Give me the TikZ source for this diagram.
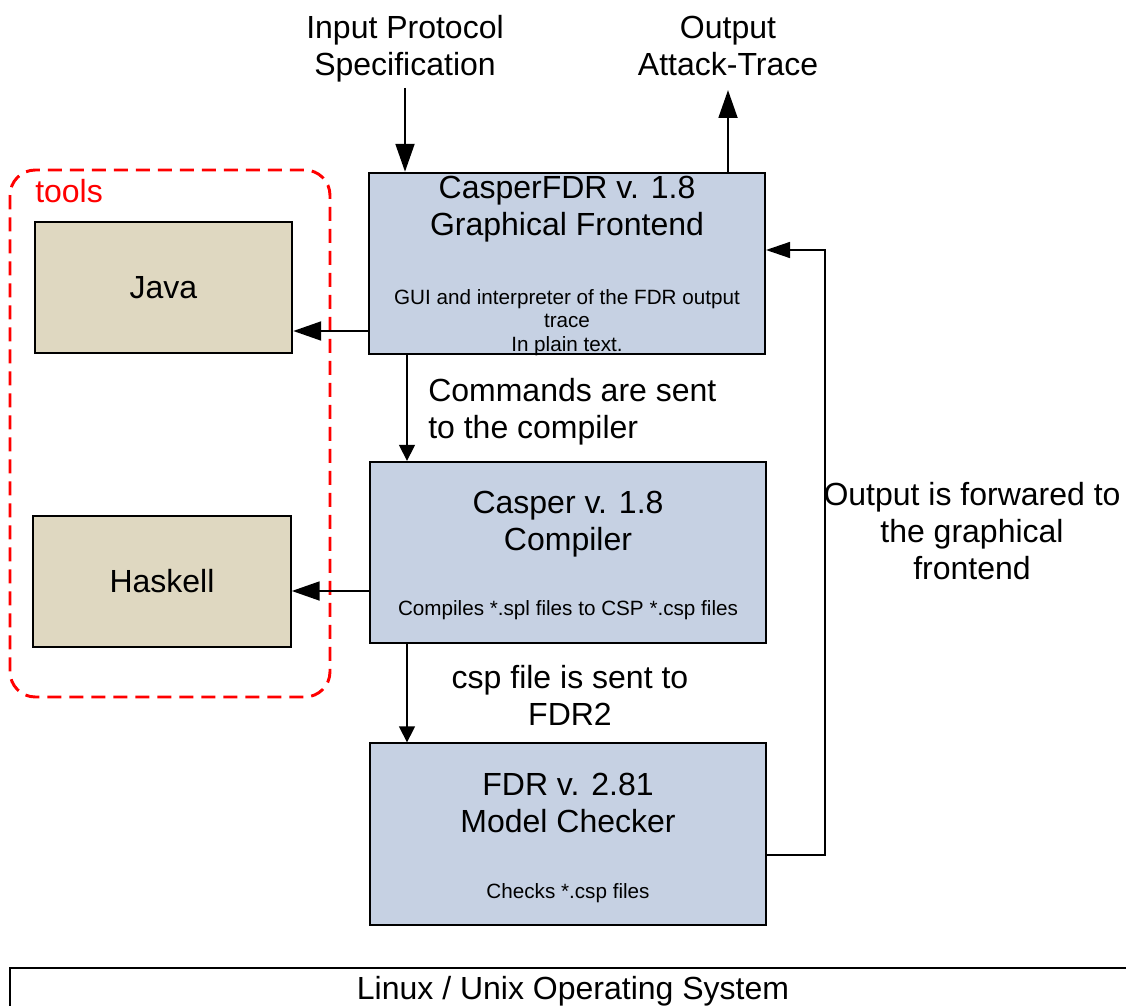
\documentclass[tikz,border=0pt]{standalone}
\usepackage{fontspec}
\setmainfont{Liberation Sans}
\usetikzlibrary{arrows.meta}
\definecolor{boxblue}{RGB}{198,209,227}
\definecolor{boxtan}{RGB}{223,216,193}
\newcommand{\bigfont}{\fontsize{24}{27.75}\selectfont}
\newcommand{\smallfont}{\fontsize{15.5}{17.6}\selectfont}
\begin{document}
\begin{tikzpicture}[
			x = 0.75pt, y = -0.75pt,
			mainbox/.style = {draw, line width=1.5pt, fill=boxblue, minimum width=297pt, minimum height=136pt, inner sep=0pt},
			toolbox/.style = {draw, line width=1.5pt, fill=boxtan, minimum width=193pt, minimum height=98pt, inner sep=0pt, font=\bigfont},
			bigtext/.style = {align=center, inner sep=0pt, font=\bigfont},
			smalltext/.style = {align=center, inner sep=0pt, font=\smallfont},
			thick arrow/.style = {line width=2.2pt, -{Triangle[length=21pt, width=14pt]}},
			thin arrow/.style = {line width=1.1pt, -{Triangle[length=12pt, width=12pt]}}
			]

		\useasboundingbox (0,0) rectangle (1126,1005);

		% operating system bar
		\draw[line width=1.5pt] (10,968) rectangle (1140,1020);
		\node[bigtext] (os) at (573,991) {Linux / Unix Operating System};

		% tools group
		\draw[red, line width=2.2pt, dash pattern=on 10.5pt off 6pt, rounded corners=19pt] (10,170) rectangle (330,697);
		\node[bigtext, red, anchor=west] (tools) at (35,191) {tools};
		\node[toolbox] (java) at (163.5,287.5) {Java};
		\node[toolbox] (haskell) at (162,581.5) {Haskell};

		% main chain
		\node[mainbox] (front) at (567,263.5) {};
		\node[bigtext] (fronttitle) at (567,209) {CasperFDR v. 1.8\\Graphical Frontend};
		\node[smalltext] (frontdesc) at (567,322.5) {GUI and interpreter of the FDR output\\trace\\In plain text.};

		\node[mainbox] (comp) at (568,552.5) {};
		\node[bigtext] (comptitle) at (568,524) {Casper v. 1.8\\Compiler};
		\node[smalltext] (compdesc) at (568,610) {Compiles *.spl files to CSP *.csp files};

		\node[mainbox] (fdr) at (568,834) {};
		\node[bigtext] (fdrtitle) at (568,803) {FDR v. 2.81\\Model Checker};
		\node[smalltext] (fdrdesc) at (568,893) {Checks *.csp files};

		% input and output
		\node[bigtext] (input) at (405,49) {Input Protocol\\Specification};
		\node[bigtext] (output) at (728,46) {Output\\Attack-Trace};
		\coordinate (inp) at (405,88);
		\coordinate (outp) at (728,90);
		\draw[thick arrow] (inp) -- (inp |- front.north);
		\draw[thick arrow] (outp |- front.north) -- (outp);

		\draw[thick arrow] (front.west |- 0,331) -- (java.east |- 0,331);
		\draw[thick arrow] (comp.west |- 0,591) -- (haskell.east |- 0,591);

		\draw[thin arrow] (front.south -| 407,0) -- (comp.north -| 407,0);
		\draw[thin arrow] (comp.south -| 407,0) -- (fdr.north -| 407,0);
		\node[bigtext, align=left, anchor=west] (cmdlabel) at (428,412) {Commands are sent\\to the compiler};
		\node[bigtext] (csplabel) at (570,695) {csp file is sent to\\FDR2};

		% feedback to the frontend
		\coordinate (fb) at (825,250);
		\draw[thin arrow, -{Triangle[length=18pt, width=12pt]}] (fdr.east |- 0,855) -| (fb) -- (front.east |- fb);
		\node[bigtext] (fblabel) at (972,531) {Output is forwared to\\the graphical\\frontend};

		\end{tikzpicture}
\end{document}
